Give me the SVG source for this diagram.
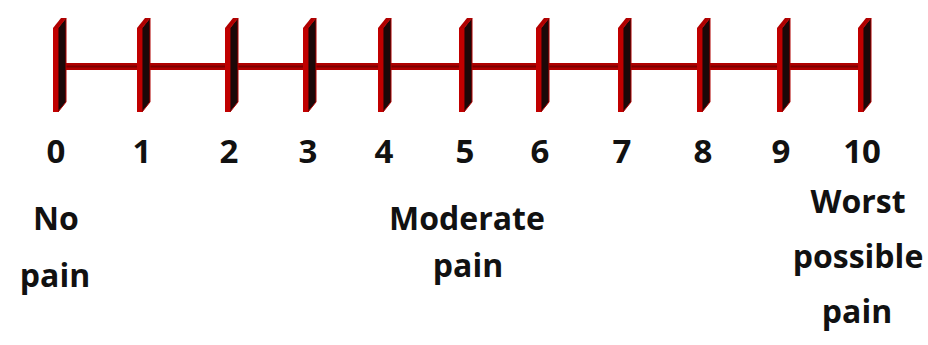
<svg xmlns="http://www.w3.org/2000/svg" xmlns:xlink="http://www.w3.org/1999/xlink" width="928" height="345" viewBox="0 0 928 345">
<style>
.num{font-family:"Open Sans","Liberation Sans",sans-serif;font-weight:bold;font-size:33px;fill:#111;text-anchor:middle}
.lbl{font-family:"Open Sans","Liberation Sans",sans-serif;font-weight:bold;font-size:32px;fill:#111;text-anchor:middle}
</style>
<defs>
<g id="tick">
<polygon points="5,28 13,18 13,102 5,112" fill="#1c0808" stroke="#b00000" stroke-width="1"/>
<polygon points="0,28 8,18 13,18 5,28" fill="#b00000"/>
<rect x="0" y="28" width="5" height="84" fill="#c00000"/>
</g>
</defs>
<rect width="928" height="345" fill="#fff"/>
<g id="connectors">
<line x1="58" y1="66.5" x2="860" y2="66.5" stroke="#b00000" stroke-width="7"/>
<line x1="58" y1="66.5" x2="860" y2="66.5" stroke="#4a0000" stroke-width="2" opacity="0.5"/>
</g>
<g id="tick0"><use xlink:href="#tick" x="53"/><text class="num" x="56" y="163">0</text></g>
<g id="tick1"><use xlink:href="#tick" x="137"/><text class="num" x="142" y="163">1</text></g>
<g id="tick2"><use xlink:href="#tick" x="225"/><text class="num" x="229" y="163">2</text></g>
<g id="tick3"><use xlink:href="#tick" x="303"/><text class="num" x="308" y="163">3</text></g>
<g id="tick4"><use xlink:href="#tick" x="378"/><text class="num" x="384" y="163">4</text></g>
<g id="tick5"><use xlink:href="#tick" x="459"/><text class="num" x="465" y="163">5</text></g>
<g id="tick6"><use xlink:href="#tick" x="536"/><text class="num" x="540" y="163">6</text></g>
<g id="tick7"><use xlink:href="#tick" x="618"/><text class="num" x="622" y="163">7</text></g>
<g id="tick8"><use xlink:href="#tick" x="697"/><text class="num" x="703" y="163">8</text></g>
<g id="tick9"><use xlink:href="#tick" x="777"/><text class="num" x="781" y="163">9</text></g>
<g id="tick10"><use xlink:href="#tick" x="858"/><text class="num" x="862" y="163">10</text></g>
<g id="label-no-pain"><text class="lbl" x="56" y="230">No</text><text class="lbl" x="55" y="287">pain</text></g>
<g id="label-moderate"><text class="lbl" x="467" y="230">Moderate</text><text class="lbl" x="468" y="277">pain</text></g>
<g id="label-worst"><text class="lbl" x="858" y="213">Worst</text><text class="lbl" x="858" y="268">possible</text><text class="lbl" x="857" y="323">pain</text></g>
</svg>
